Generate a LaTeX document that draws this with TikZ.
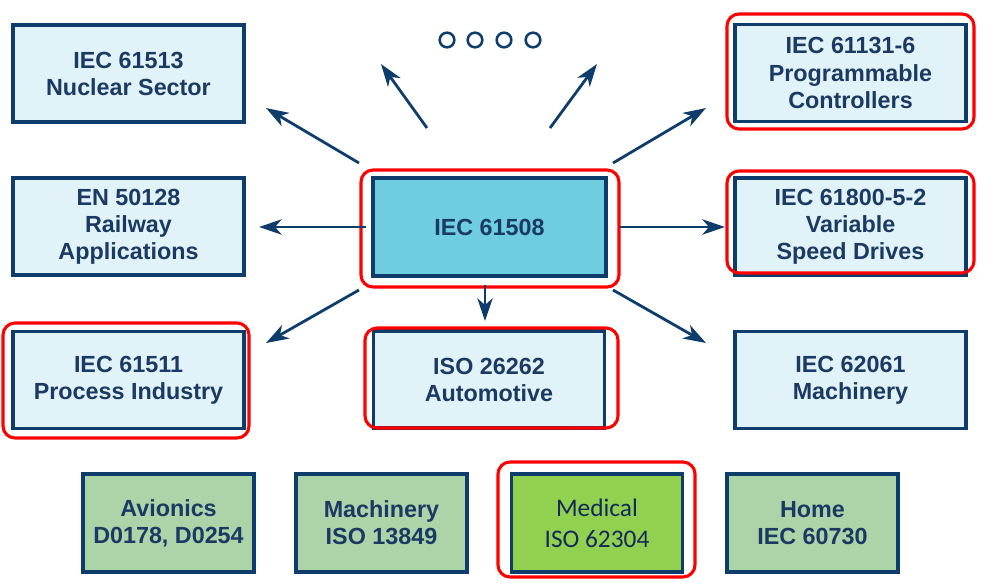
\documentclass[tikz,border=0pt]{standalone}
\usepackage{fontspec}
\setmainfont{Liberation Sans}
\newfontfamily\calib{Carlito}
\usetikzlibrary{arrows.meta}
\definecolor{navy}{HTML}{0F3D6B}
\definecolor{txtnavy}{HTML}{1B3A63}
\definecolor{medtxt}{HTML}{14285A}
\definecolor{lightfill}{HTML}{E1F2F8}
\definecolor{centerfill}{HTML}{6ECDE0}
\definecolor{greenfill}{HTML}{ABD5A9}
\definecolor{medfill}{HTML}{92D050}
\definecolor{ringred}{HTML}{FF0000}
\begin{document}
\begin{tikzpicture}[x=0.75pt,y=-0.75pt,
  stdbox/.style={draw=navy,line width=2.6pt,fill=lightfill,inner sep=0pt,
    minimum width=173.25pt,minimum height=73pt,align=center,text=txtnavy,
    font=\fontsize{17.5}{20.3}\selectfont\bfseries},
  centerbox/.style={stdbox,fill=centerfill,minimum width=174.75pt,minimum height=73.5pt},
  greenbox/.style={stdbox,fill=greenfill,minimum width=128.25pt,minimum height=73.5pt},
  medbox/.style={greenbox,fill=medfill,text=medtxt,font=\calib\fontsize{19}{23}\selectfont},
  ring/.style={draw=ringred,line width=2.3pt,rounded corners=9pt},
  conn/.style={draw=navy,line width=2.1pt,-{Stealth[length=17pt,width=11.5pt,inset=5pt]}},
  dot/.style={circle,draw=navy,line width=1.9pt,minimum size=11pt,inner sep=0pt}
]
\useasboundingbox (0,0) rectangle (1001,583);

% nodes
\node[stdbox] (nuc) at (128.5,73.5) {IEC 61513\\Nuclear Sector};
\node[stdbox] (rail) at (128.5,226.5) {EN 50128\\Railway\\Applications};
\node[stdbox] (proc) at (128.5,380) {IEC 61511\\Process Industry};
\node[centerbox] (c) at (489.5,227) {IEC 61508};
\node[stdbox] (iso) at (489,379.5) {ISO 26262\\Automotive};
\node[stdbox] (prog) at (850.5,73) {IEC 61131-6\\Programmable\\Controllers};
\node[stdbox] (vsd) at (850.5,226.5) {IEC 61800-5-2\\Variable\\Speed Drives};
\node[stdbox] (mac) at (850.5,380) {IEC 62061\\Machinery};
\node[greenbox] (avi) at (168.5,523) {Avionics\\D0178, D0254};
\node[greenbox] (mach) at (381.5,523) {Machinery\\ISO 13849};
\node[medbox] (med) at (597,523) {Medical\\ISO 62304};
\node[greenbox] (home) at (812.5,523) {Home\\IEC 60730};

% dots
\node[dot] (d1) at (447,40) {};
\node[dot] (d2) at (475,40) {};
\node[dot] (d3) at (504,40) {};
\node[dot] (d4) at (533,40) {};

% red rings
\draw[ring] (361,170) rectangle (619,287);
\draw[ring] (727,14) rectangle (974,129);
\draw[ring] (727,171) rectangle (974,273);
\draw[ring] (3,323) rectangle (249,438);
\draw[ring] (365,328) rectangle (618,428);
\draw[ring] (498,462) rectangle (695,577);

% arrow end points
\coordinate (t1) at (359,163); \coordinate (h1) at (266,108);
\coordinate (t2) at (366,227); \coordinate (h2) at (259,227);
\coordinate (t3) at (359,290); \coordinate (h3) at (266,343);
\coordinate (t4) at (485,285); \coordinate (h4) at (485,321);
\coordinate (t5) at (613,290); \coordinate (h5) at (706,343);
\coordinate (t6) at (620,227); \coordinate (h6) at (725,227);
\coordinate (t7) at (613,163); \coordinate (h7) at (706,108);
\coordinate (t8) at (427,128); \coordinate (h8) at (381,64);
\coordinate (t9) at (550,128); \coordinate (h9) at (597,64);

\foreach \i in {1,...,9} { \draw[conn] (t\i) -- (h\i); }
\end{tikzpicture}
\end{document}
